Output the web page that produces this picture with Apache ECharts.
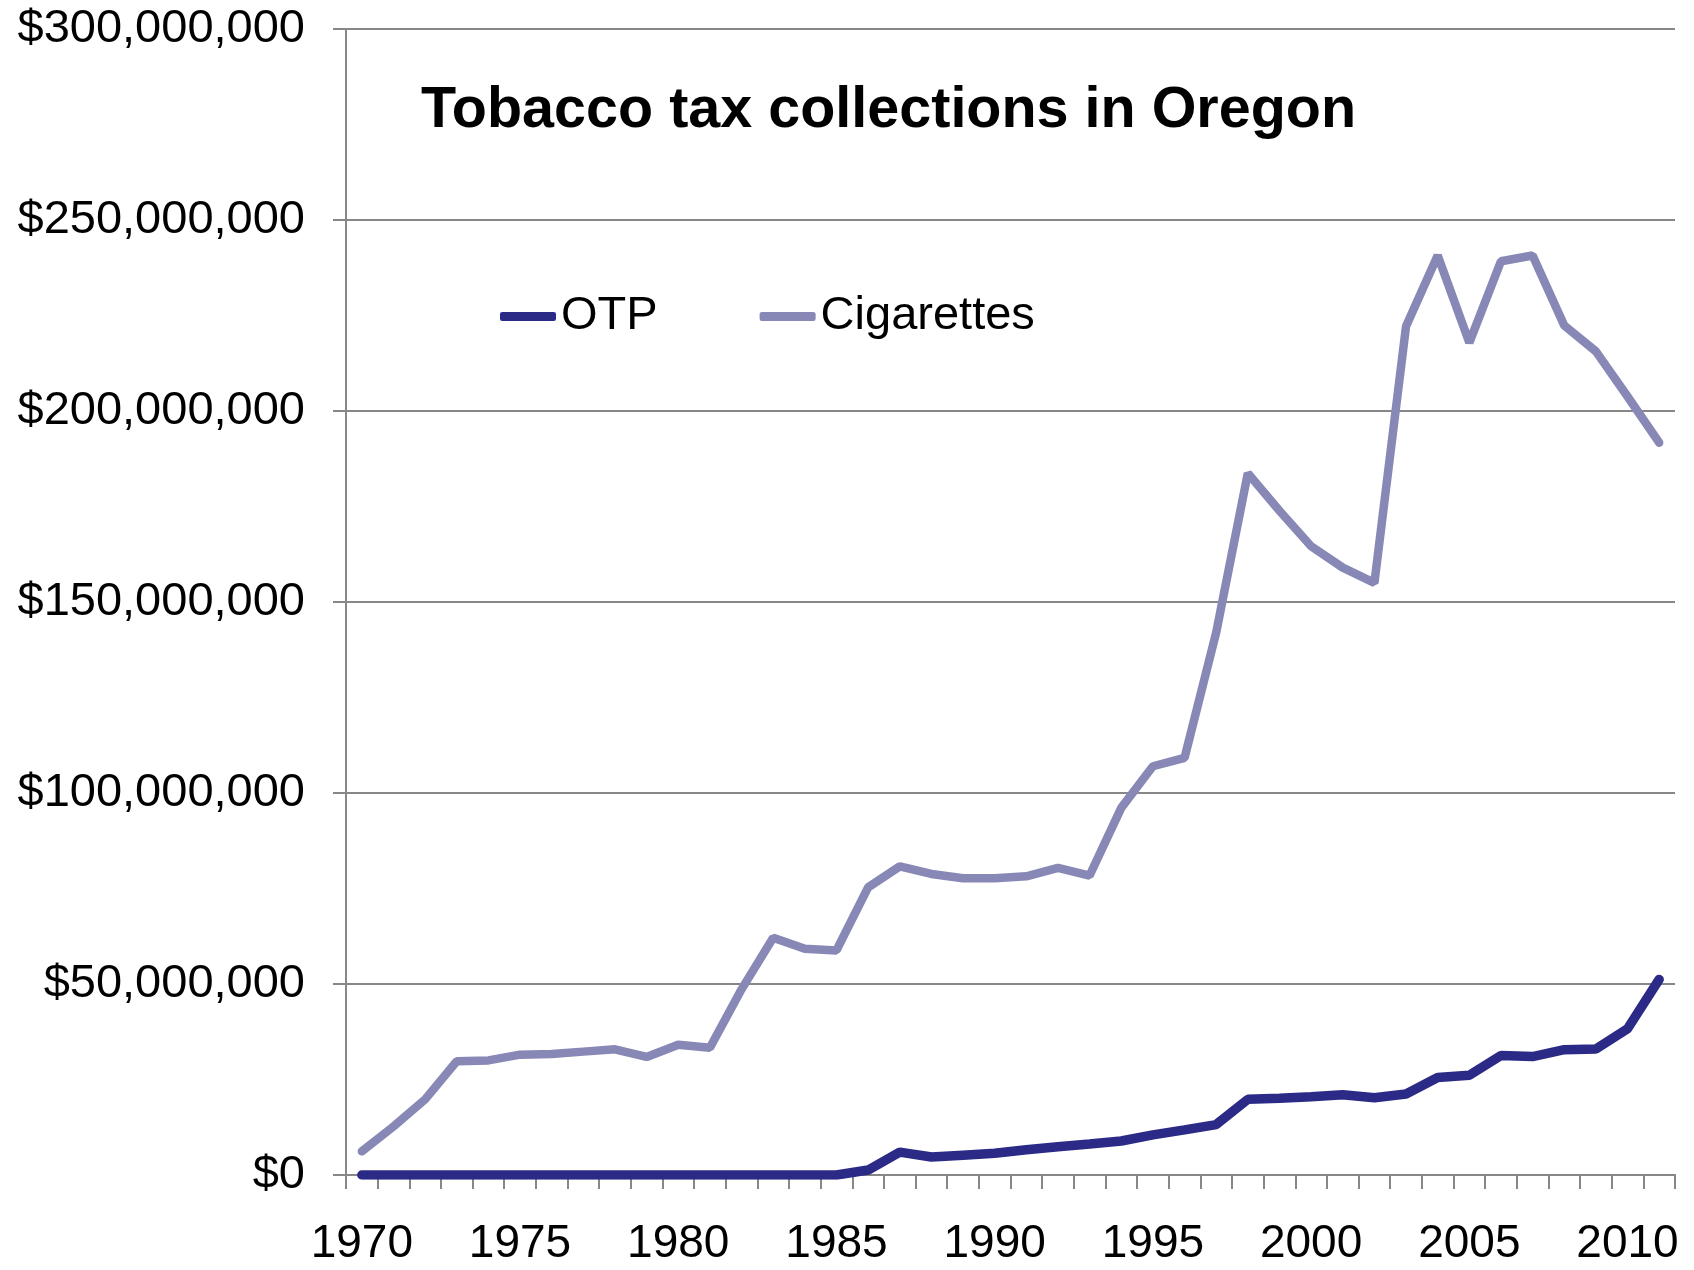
<!DOCTYPE html>
<html>
<head>
<meta charset="utf-8">
<script src="https://cdn.jsdelivr.net/npm/echarts@6/dist/echarts.min.js"></script>
<style>
  html, body { margin: 0; padding: 0; background: #fff; }
  #chart { width: 1694px; height: 1270px; }
</style>
</head>
<body>
<div id="chart"></div>
<script>
var years = ['1970','1971','1972','1973','1974','1975','1976','1977','1978','1979',
             '1980','1981','1982','1983','1984','1985','1986','1987','1988','1989',
             '1990','1991','1992','1993','1994','1995','1996','1997','1998','1999',
             '2000','2001','2002','2003','2004','2005','2006','2007','2008','2009',
             '2010','2011'];

var otp = [0,0,0,0,0,0,0,0,0,0,
           0,0,0,0,0,0,1300000,6000000,4700000,5200000,
           5700000,6600000,7400000,8100000,8900000,10500000,11800000,13200000,19800000,20100000,
           20500000,21000000,20200000,21200000,25500000,26100000,31300000,31000000,32800000,33000000,
           38300000,51200000];

var cigarettes = [6200000,12700000,19800000,29800000,30000000,31500000,31700000,32300000,32900000,30900000,
                  34100000,33300000,48600000,62100000,59200000,58800000,75300000,80800000,78800000,77700000,
                  77700000,78200000,80400000,78400000,96100000,107000000,109200000,142000000,183700000,173900000,
                  164600000,159000000,155000000,222200000,240700000,217900000,239200000,240700000,222400000,215600000,
                  203800000,191700000];

var yMin = 0, yMax = 300000000, yStep = 50000000;

var FONT = '"Liberation Sans", Arial, sans-serif';
var GRID = '#878787';

var chart = echarts.init(document.getElementById('chart'), null, { renderer: 'canvas' });
chart.setOption({
  animation: false,
  backgroundColor: '#ffffff',
  title: {
    text: 'Tobacco tax collections in Oregon',
    left: 421,
    top: 82,
    padding: 0,
    textStyle: { fontFamily: FONT, fontSize: 57.5, fontWeight: 'bold', color: '#000' }
  },
  legend: {
    left: 500,
    top: 293,
    padding: 0,
    itemWidth: 56,
    itemHeight: 9,
    itemGap: 102,
    icon: 'roundRect',
    textStyle: { fontFamily: FONT, fontSize: 47, color: '#000' },
    data: ['OTP', 'Cigarettes']
  },
  grid: { left: 346, right: 19, top: 29, bottom: 95, containLabel: false },
  xAxis: {
    type: 'category',
    data: years,
    boundaryGap: true,
    axisLine: { lineStyle: { color: GRID, width: 2 } },
    axisTick: { show: true, interval: 0, length: 14, lineStyle: { color: GRID, width: 2 } },
    axisLabel: { interval: 4, margin: 46, fontFamily: FONT, fontSize: 46, color: '#000' },
    splitLine: { show: false }
  },
  yAxis: {
    type: 'value',
    min: yMin,
    max: yMax,
    interval: yStep,
    axisLine: { show: true, lineStyle: { color: GRID, width: 2 } },
    axisTick: { show: true, length: 13, lineStyle: { color: GRID, width: 2 } },
    axisLabel: {
      margin: 41,
      fontFamily: FONT,
      fontSize: 47,
      color: '#000',
      formatter: function (v) { return '$' + v.toLocaleString('en-US'); }
    },
    splitLine: { show: true, lineStyle: { color: GRID, width: 2 } }
  },
  series: [
    {
      name: 'OTP',
      type: 'line',
      data: otp,
      symbol: 'none',
      color: '#2b2a87',
      lineStyle: { width: 9.5, color: '#2b2a87', cap: 'round' }
    },
    {
      name: 'Cigarettes',
      type: 'line',
      data: cigarettes,
      symbol: 'none',
      color: '#8888b6',
      lineStyle: { width: 8.5, color: '#8888b6', cap: 'round' }
    }
  ]
});
</script>
</body>
</html>
